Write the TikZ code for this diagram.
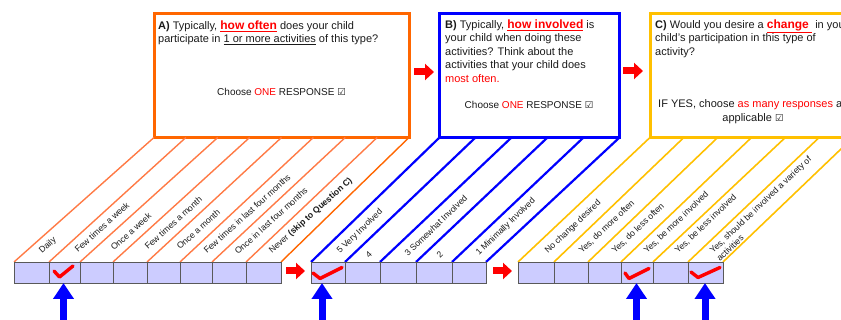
\documentclass[tikz,border=0pt]{standalone}
\usepackage{fontspec}
\setmainfont{Liberation Sans}
\newfontfamily\symfont{DejaVu Sans}
\usetikzlibrary{arrows.meta,calc}
\definecolor{orbox}{HTML}{FF6600}
\definecolor{orline}{HTML}{FF7A45}
\definecolor{blbox}{HTML}{0000FF}
\definecolor{yebox}{HTML}{FFC000}
\definecolor{cellfill}{HTML}{CCCCFF}
\definecolor{cellline}{HTML}{595959}
\definecolor{hired}{HTML}{FF0000}
\definecolor{txt}{HTML}{1A1A1A}
\definecolor{arrblue}{HTML}{0000FF}
\newcommand{\cbox}{{\symfont\fontsize{9.5}{10}\selectfont ☑}}
\begin{document}
\begin{tikzpicture}[x=1pt,y=-1pt,
  qbox/.style={draw, line width=3pt, anchor=north west, inner sep=0pt, outer sep=0pt},
  cellpos/.style={minimum height=21pt, inner sep=0pt, outer sep=0pt},
  cellsty/.style={draw=cellline, fill=cellfill, line width=0.9pt},
  lab/.style={font=\fontsize{8.7}{9.5}\selectfont, text=txt, inner sep=0pt, anchor=base west},
  qtext/.style={font=\fontsize{11}{13.5}\selectfont, text=txt, inner sep=0pt, align=left, anchor=base west},
  ctext/.style={font=\fontsize{10}{13.5}\selectfont, text=txt, inner sep=0pt, align=center, anchor=base},
  olinestyle/.style={draw=orline, line width=1.4pt},
  blinestyle/.style={draw=blbox, line width=2.2pt},
  ylinestyle/.style={draw=yebox, line width=1.6pt},
  chk/.style={draw=hired, line width=3.4pt, line join=round, line cap=round},
  rarr/.style={draw=hired, line width=7pt, -{Triangle[length=9pt,width=16pt]}},
  barr/.style={draw=arrblue, line width=7pt, -{Triangle[length=16pt,width=20pt]}}
]
\clip (0,0) rectangle (841,320);

% question boxes
\node[qbox, draw=orbox, minimum width=255pt, minimum height=124pt] (boxA) at (154,13.5) {};
\node[qbox, draw=blbox, minimum width=180pt, minimum height=124pt] (boxB) at (439.5,13.5) {};
\node[qbox, draw=yebox, minimum width=203pt, minimum height=124pt] (boxC) at (650,13.5) {};

% texts in boxes (base anchor = baseline of the last line)
\node[qtext] (tA) at (158,43) {\textbf{A)} Typically, {\color{hired}\fontsize{12}{13.5}\selectfont\bfseries\underline{how often}} does your child\\participate in \underline{1 or more activities} of this type?};
\node[ctext] (cA) at (281.5,95.5) {Choose {\color{hired}ONE} RESPONSE \cbox};

\node[qtext] (tB) at (445,82.5) {\textbf{B)} Typically, {\color{hired}\fontsize{12}{13.5}\selectfont\bfseries\underline{how involved}} is\\your child when doing these\\activities? Think about the\\activities that your child does\\{\color{hired}most often.}};
\node[ctext] (cB) at (529,108.5) {Choose {\color{hired}ONE} RESPONSE \cbox};

\node[qtext] (tC) at (655,55.5) {\textbf{C)} Would you desire a {\color{hired}\fontsize{12}{13.5}\selectfont\bfseries\underline{change\ }} in your\\child’s participation in this type of\\activity?};
\node[ctext, font=\fontsize{11}{13.5}\selectfont] (cC) at (753,121.5) {IF YES, choose {\color{hired}as many responses} as\\applicable \cbox};

% cell positions
\foreach \i/\l/\r in {1/14/49, 2/49/80, 3/80/113, 4/113/147, 5/147/180, 6/180/212, 7/212/246, 8/246/281}
  \node[cellpos, minimum width={(\r-\l)*1pt}] (cA\i) at ({(\l+\r)/2},272.5) {};
\foreach \i/\l/\r in {1/311/345, 2/345/380, 3/380/416, 4/416/452, 5/452/486}
  \node[cellpos, minimum width={(\r-\l)*1pt}] (cB\i) at ({(\l+\r)/2},272.5) {};
\foreach \i/\l/\r in {1/518/554, 2/554/588, 3/588/621, 4/621/653, 5/653/688, 6/688/723}
  \node[cellpos, minimum width={(\r-\l)*1pt}] (cC\i) at ({(\l+\r)/2},272.5) {};

% slanted lines
\foreach \i in {1,...,8}
  \draw[olinestyle] (cA\i.north west) -- ($(boxA.south west)!{(\i-1)/8}!(boxA.south east)$);
\draw[olinestyle, draw=orbox] (cA8.north east) -- (boxA.south east);
\foreach \i in {1,...,5}
  \draw[blinestyle] (cB\i.north west) -- ($(boxB.south west)!{(\i-1)/5}!(boxB.south east)$);
\draw[blinestyle] (cB5.north east) -- (boxB.south east);
\foreach \i in {1,...,6}
  \draw[ylinestyle] (cC\i.north west) -- ($(boxC.south west)!{(\i-1)/6}!(boxC.south east)$);
\draw[ylinestyle] (cC6.north east) -- (boxC.south east);

% cells drawn on top
\foreach \i in {1,...,8} \draw[cellsty] (cA\i.north west) rectangle (cA\i.south east);
\foreach \i in {1,...,5} \draw[cellsty] (cB\i.north west) rectangle (cB\i.south east);
\foreach \i in {1,...,6} \draw[cellsty] (cC\i.north west) rectangle (cC\i.south east);

% labels A
\node[lab, rotate=42] (lA1) at (42,254) {Daily};
\node[lab, rotate=42] (lA2) at (78,253) {Few times a week};
\node[lab, rotate=42] (lA3) at (114,251) {Once a week};
\node[lab, rotate=42] (lA4) at (148,250) {Few times a month};
\node[lab, rotate=42] (lA5) at (180,250) {Once a month};
\node[lab, rotate=42] (lA6) at (207,254) {Few times in last four months};
\node[lab, rotate=42] (lA7) at (238,255) {Once in last four months};
\node[lab, rotate=42] (lA8) at (272,254) {Never \textbf{(skip to Question C)}};
% labels B
\node[lab, rotate=44] (lB1) at (340,254) {5 Very Involved};
\node[lab, rotate=44] (lB2) at (369,259) {4};
\node[lab, rotate=44] (lB3) at (408,257) {3 Somewhat Involved};
\node[lab, rotate=44] (lB4) at (440,259) {2};
\node[lab, rotate=44] (lB5) at (479,256) {1 Minimally Involved};
% labels C
\node[lab, rotate=43.5] (lC1) at (548,254) {No change desired};
\node[lab, rotate=43.5] (lC2) at (582,254) {Yes, do more often};
\node[lab, rotate=43.5] (lC3) at (615,254) {Yes, do less often};
\node[lab, rotate=43.5] (lC4) at (647,254) {Yes, be more involved};
\node[lab, rotate=43.5] (lC5) at (678,254) {Yes, be less involved};
\node[lab, rotate=43.5] (lC6) at (713,254) {Yes, should be involved a variety of};
\node[lab, rotate=43.5] (lC7) at (720,262) {activities};

% check marks
\draw[chk] (54,271) -- (59.5,277) -- (73,266);
\draw[chk] (313,273) -- (320,278.5) -- (342,267.5);
\draw[chk] (625,273) -- (629,278.5) -- (649,268.5);
\draw[chk] (691,272) -- (698,277.5) -- (720,267.5);

% red arrows
\coordinate (r1s) at (414,72);  \coordinate (r1e) at (434,72);
\coordinate (r2s) at (623,71);  \coordinate (r2e) at (643,71);
\coordinate (r3s) at (286,271); \coordinate (r3e) at (305,271);
\coordinate (r4s) at (493,271); \coordinate (r4e) at (512,271);
\draw[rarr] (r1s) -- (r1e);
\draw[rarr] (r2s) -- (r2e);
\draw[rarr] (r3s) -- (r3e);
\draw[rarr] (r4s) -- (r4e);

% blue arrows
\coordinate (b1) at (63.5,330);
\coordinate (b2) at (322,330);
\coordinate (b3) at (636.5,330);
\coordinate (b4) at (705,330);
\draw[barr] (b1) -- (b1 |- cA2.south);
\draw[barr] (b2) -- (b2 |- cB1.south);
\draw[barr] (b3) -- (b3 |- cC4.south);
\draw[barr] (b4) -- (b4 |- cC6.south);
\end{tikzpicture}
\end{document}
